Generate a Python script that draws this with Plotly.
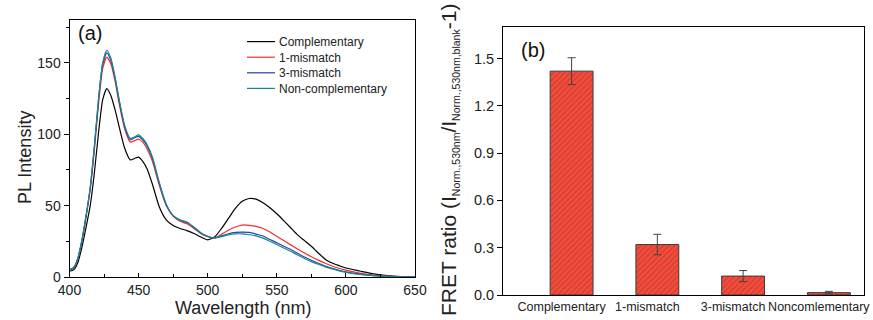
import plotly.graph_objects as go

# ---------------- data: panel (a) PL spectra ----------------
wavelength = [400, 403, 406, 409, 412, 415, 418, 421, 424, 427, 430, 433, 436, 440,
              444, 447, 450, 453, 456, 460, 465, 470, 475, 480, 485, 490, 495, 500,
              505, 510, 515, 520, 525, 530, 535, 540, 545, 550, 555, 560, 565, 570,
              575, 580, 585, 590, 595, 600, 610, 620, 630, 640, 650]

complementary = [4.0, 5.0, 10, 21, 35, 50, 73, 101, 124, 132, 127, 117, 105, 90,
                 82, 83, 84, 81, 76, 65, 49, 40, 36, 34, 32.5, 30.5, 28, 26,
                 28, 34, 41, 48, 53, 55, 54.5, 52, 48.5, 44.3, 39.5, 34.5, 29.5, 25.5,
                 21.5, 16.8, 12.5, 9.8, 8.0, 6.3, 4.2, 2.2, 0.9, 0.25, 0]

mismatch1 = [5.0, 6.3, 12.5, 25, 42, 61, 89, 121, 146, 154, 149, 137, 121, 103.5,
             94.5, 95.5, 96.5, 94.5, 90, 81, 64, 50, 42.5, 39, 37.3, 34, 30.5, 28.3,
             27.5, 30, 32.8, 35, 36.4, 36.2, 35.5, 34, 31.5, 28.5, 25.5, 22.5, 19.6, 16.8,
             14.2, 11.8, 9.6, 7.7, 6.1, 4.8, 2.7, 1.4, 0.6, 0.2, 0]

mismatch3 = [5.0, 6.5, 13, 26, 43, 62.5, 91, 124, 149, 157, 151.5, 139, 123, 105,
             96, 97.5, 98.5, 96, 92, 83, 65.5, 50.5, 43, 39.7, 38.2, 34.7, 30.8, 28.4,
             27.3, 28.8, 30.3, 31.2, 31.5, 31.2, 30, 28.7, 26.3, 24, 21.5, 19.3, 16.6, 14.0,
             11.7, 9.6, 7.7, 6.1, 4.7, 3.6, 2.0, 1.0, 0.45, 0.12, 0]

noncomplementary = [5.0, 6.5, 13, 26, 43, 63, 92, 125, 150, 159, 153, 140, 124, 106,
                    97, 98, 99.5, 97, 93, 84, 66, 51, 43, 40, 38.5, 35, 31, 28.5,
                    27.3, 28.3, 29.5, 30.2, 30.2, 29.6, 28.8, 27.2, 25, 22.8, 20.3, 18, 15.4, 13.0,
                    10.8, 8.9, 7.1, 5.6, 4.3, 3.3, 1.8, 0.9, 0.4, 0.1, 0]

series_names = ["Complementary", "1-mismatch", "3-mismatch", "Non-complementary"]
series_values = [complementary, mismatch1, mismatch3, noncomplementary]
series_colors = ["#000000", "#f2302a", "#2340b5", "#17898a"]

# ---------------- data: panel (b) FRET ratio ----------------
bar_categories = ["Complementary", "1-mismatch", "3-mismatch", "Noncomlementary"]
fret_ratio = [1.42, 0.32, 0.12, 0.015]
fret_error = [0.085, 0.065, 0.035, 0.008]

W, H = 873, 320

fig = go.Figure()

for name, vals, col in zip(series_names, series_values, series_colors):
    fig.add_trace(go.Scatter(x=wavelength, y=vals, mode="lines", name=name,
                             line=dict(color=col, width=1.2, shape="spline", smoothing=0.6),
                             xaxis="x", yaxis="y", showlegend=False))

fig.add_trace(go.Bar(x=bar_categories, y=fret_ratio, xaxis="x2", yaxis="y2",
                     width=0.5, showlegend=False,
                     marker=dict(color="#ee4a3c",
                                 line=dict(color="#3a3a3a", width=1),
                                 pattern=dict(shape="/", fgcolor="#b52a22",
                                              bgcolor="#f24e3e", size=4, solidity=0.35)),
                     error_y=dict(type="data", array=fret_error, color="#444444",
                                  thickness=1, width=4)))

def px_x(p):
    return p / W

def px_y(p):
    return 1 - p / H

font_family = "Liberation Sans, Arial, sans-serif"

axis_common = dict(showline=True, linecolor="black", linewidth=1, mirror=True,
                   showgrid=False, zeroline=False, automargin=False,
                   tickfont=dict(family=font_family, size=14, color="#222"))

fig.update_layout(
    width=W, height=H,
    margin=dict(l=0, r=0, t=0, b=0, autoexpand=False),
    paper_bgcolor="white", plot_bgcolor="white",
    font=dict(family=font_family, color="#222"),
    xaxis=dict(domain=[px_x(69.5), px_x(415)], range=[400, 650],
               tickvals=[400, 450, 500, 550, 600, 650], ticks="inside", ticklen=4,
               tickcolor="black", tickangle=0,
               minor=dict(tickvals=[425, 475, 525, 575, 625], ticks="inside",
                          ticklen=3, tickcolor="black"),
               anchor="y", **axis_common),
    yaxis=dict(domain=[px_y(277), px_y(20)], range=[0, 180],
               tickvals=[0, 50, 100, 150], ticks="outside", ticklen=5,
               tickcolor="black",
               minor=dict(tickvals=[25, 75, 125, 175], ticks="outside",
                          ticklen=3, tickcolor="black"),
               anchor="x", **axis_common),
    xaxis2=dict(domain=[px_x(503), px_x(864)], range=[-0.80, 3.41],
                type="category", ticks="", ticklabelshift=-10, tickangle=0,
                anchor="y2", **{**axis_common,
                                "tickfont": dict(family=font_family, size=12.5, color="#222")}),
    yaxis2=dict(domain=[px_y(295), px_y(27)], range=[0, 1.7],
                tickvals=[0, 0.3, 0.6, 0.9, 1.2, 1.5], tickformat=".1f",
                ticks="outside", ticklen=5, tickcolor="black",
                anchor="x2", **{**axis_common,
                                "tickfont": dict(family=font_family, size=14.5, color="#222")}),
)

ann = []
# axis titles
ann.append(dict(text="PL Intensity", x=px_x(25), y=px_y(158), xref="paper", yref="paper",
                textangle=-90, showarrow=False, xanchor="center", yanchor="middle",
                font=dict(family=font_family, size=18, color="#222")))
ann.append(dict(text="Wavelength (nm)", x=px_x(243), y=px_y(308), xref="paper", yref="paper",
                showarrow=False, xanchor="center", yanchor="middle",
                font=dict(family=font_family, size=18, color="#222")))
sub = '<sub><span style="font-size:10.5px">{}</span></sub>'
fret_title = ("FRET ratio (I" + sub.format("Norm.,530nm") + "/I" +
              sub.format("Norm.,530nm,blank") + "-1)")
ann.append(dict(text=fret_title, x=px_x(449), y=px_y(160), xref="paper", yref="paper",
                textangle=-90, showarrow=False, xanchor="center", yanchor="middle",
                font=dict(family=font_family, size=21, color="#222")))
# panel labels
ann.append(dict(text="(a)", x=px_x(76), y=px_y(33), xref="paper", yref="paper",
                showarrow=False, xanchor="left", yanchor="middle",
                font=dict(family=font_family, size=20, color="#111")))
ann.append(dict(text="(b)", x=px_x(519), y=px_y(50), xref="paper", yref="paper",
                showarrow=False, xanchor="left", yanchor="middle",
                font=dict(family=font_family, size=20, color="#111")))

# legend (drawn manually to match the compact spacing): one multi-line text block
legend_font = 12
line_step = 1.3 * legend_font
legend_center = 65.0
shapes = []
for i, col in enumerate(series_colors):
    yr = legend_center + (i - 1.5) * line_step
    shapes.append(dict(type="line", xref="paper", yref="paper",
                       x0=px_x(247), x1=px_x(275), y0=px_y(yr), y1=px_y(yr),
                       line=dict(color=col, width=1.2)))
ann.append(dict(text="<br>".join(series_names), x=px_x(277), y=px_y(legend_center),
                xref="paper", yref="paper", align="left",
                showarrow=False, xanchor="left", yanchor="middle",
                font=dict(family=font_family, size=legend_font, color="#222")))

fig.update_layout(annotations=ann, shapes=shapes)

fig.write_html("out.html")
